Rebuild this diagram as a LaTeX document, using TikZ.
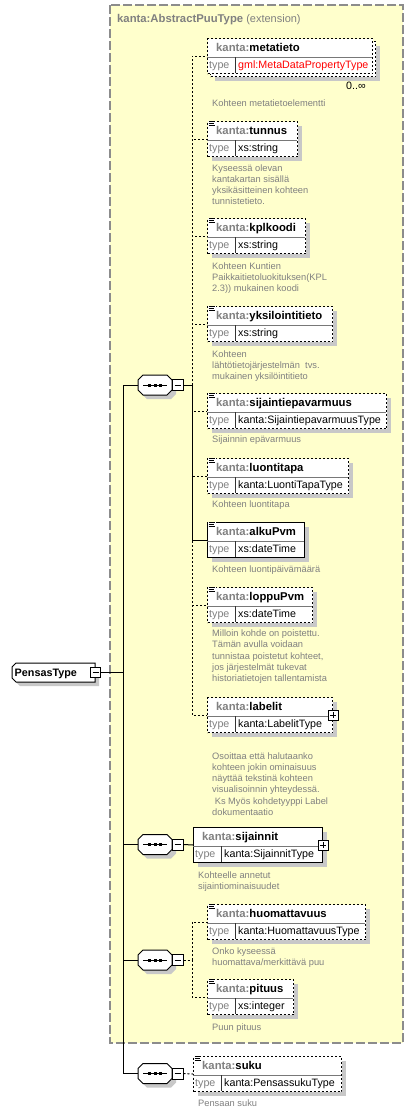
\documentclass[tikz,border=0pt]{standalone}
\usepackage{fontspec}
\setmainfont{Liberation Sans}
\usetikzlibrary{calc}
\definecolor{bgyellow}{RGB}{255,255,204}
\definecolor{framegray}{RGB}{140,140,140}
\definecolor{txtgray}{RGB}{128,128,128}
\definecolor{shadowgray}{RGB}{200,200,200}
\definecolor{typered}{RGB}{255,0,0}
\definecolor{divgray}{RGB}{120,120,120}
\tikzset{
  conn/.style={line width=1pt, draw=black},
  dashconn/.style={conn, dash pattern=on 2pt off 2pt},
  frame/.style={fill=bgyellow, draw=framegray, line width=1.2pt, dash pattern=on 9pt off 3pt},
  shadowed/.style={preaction={fill=shadowgray, transform canvas={xshift=4pt,yshift=-4pt}}},
  ebox/.style={draw=black, fill=white, line width=1pt, inner sep=0pt, minimum height=35pt, anchor=north west},
  optbox/.style={dash pattern=on 2pt off 2pt},
  reqbox/.style={solid},
  divh/.style={draw=divgray, line width=1pt},
  divv/.style={draw=black!80, line width=1pt},
  namefont/.style={font=\fontsize{11.3}{13}\selectfont\bfseries, inner sep=0pt, anchor=base west},
  typefont/.style={font=\fontsize{10.7}{12}\selectfont, inner sep=0pt, anchor=base west},
  desc/.style={font=\fontsize{9.3}{11.25}\selectfont, text=txtgray, align=left, inner sep=0pt, anchor=base west},
  sqbox/.style={draw=black, fill=white, line width=1pt, minimum size=10pt, inner sep=0pt},
  ghost/.style={inner sep=0pt, minimum width=34pt, minimum height=20pt}
}
% element box: id, x, y, width, style, name, type, type colour
\newcommand{\elem}[8]{%
  \node[ebox,#5,minimum width=#4] (#1) at (#2,#3) {};
  \draw[divh] (#2,#3+19) -- (#2+#4,#3+19);
  \draw[divv] (#2+28,#3+19) -- (#2+28,#3+35);
  \node[namefont] (#1-name) at (#2+9,#3+13.5) {\textcolor{txtgray}{kanta:}#6};
  \node[typefont, text=txtgray] (#1-tl) at (#2+2,#3+30.5) {type};
  \node[typefont, text=#8] (#1-type) at (#2+31,#3+30.5) {#7};
}
\newcommand{\docicon}[2]{%
  \fill[white] (#1+1,#2-0.5) rectangle (#1+9,#2+5.5);
  \draw[line width=0.9pt] (#1+1.5,#2+0.2) -- (#1+7.5,#2+0.2);
  \draw[line width=0.9pt] (#1+1.5,#2+2.2) -- (#1+6.5,#2+2.2);
  \draw[line width=0.9pt] (#1+1.5,#2+4.2) -- (#1+7.5,#2+4.2);
}
\newcommand{\plusnode}[2]{%
  \node[sqbox] (#1-plus) at (#2.east) {};
  \draw[line width=0.9pt] ($(#1-plus.center)+(-3,0)$) -- ($(#1-plus.center)+(3,0)$);
  \draw[line width=0.9pt] ($(#1-plus.center)+(0,-3)$) -- ($(#1-plus.center)+(0,3)$);
}
% sequence compositor: id, cx, cy
\newcommand{\seqsym}[3]{%
  \fill[shadowgray] (#2-8,#3-6) -- (#2+16,#3-6) -- (#2+21,#3-1) -- (#2+21,#3+9) -- (#2+16,#3+14) -- (#2-8,#3+14) -- (#2-13,#3+9) -- (#2-13,#3-1) -- cycle;
  \draw[fill=white, line width=1pt] (#2-12,#3-10) -- (#2+12,#3-10) -- (#2+17,#3-5) -- (#2+17,#3+5) -- (#2+12,#3+10) -- (#2-12,#3+10) -- (#2-17,#3+5) -- (#2-17,#3-5) -- cycle;
  \node[ghost] (#1) at (#2,#3) {};
  \draw[line width=1pt] (#2-12,#3) -- (#2+12,#3);
  \fill (#2-7,#3-1.5) rectangle (#2-4,#3+1.5);
  \fill (#2-1.5,#3-1.5) rectangle (#2+1.5,#3+1.5);
  \fill (#2+4,#3-1.5) rectangle (#2+7,#3+1.5);
  \node[sqbox, minimum size=11pt] (#1m) at (#2+22.5,#3) {};
  \draw[line width=0.9pt] (#2+19.5,#3) -- (#2+25.5,#3);
}
\begin{document}
\begin{tikzpicture}[x=1pt,y=-1pt]
\useasboundingbox (0,0) rectangle (414,1114);
\fill[white] (0,0) rectangle (414,1114);
\draw[frame] (110,5) rectangle (403,1043);
\node[namefont, text=txtgray] (title) at (117,22.5) {kanta:AbstractPuuType\mdseries\fontsize{11}{13}\selectfont{} (extension)};

% root
\fill[shadowgray] (20,667) -- (99,667) -- (99,686) -- (20,686) -- (16,682) -- (16,671) -- cycle;
\draw[fill=white, line width=1pt] (16,663) -- (95,663) -- (95,682) -- (16,682) -- (12,678) -- (12,667) -- cycle;
\node[namefont, font=\fontsize{10.8}{13}\selectfont\bfseries] (pensas) at (14.5,676.5) {PensasType};
\node[sqbox] (pm) at (95.5,672.5) {};
\draw[line width=0.9pt] (92.5,672.5) -- (98.5,672.5);

% sequences
\seqsym{s1}{155}{385}
\seqsym{s2}{155}{844.5}
\seqsym{s3}{155}{960}
\seqsym{s4}{155}{1073.5}

% element boxes
\node[ebox, optbox, shadowed, minimum width=165] (metaback) at (210,41) {};
\elem{metatieto}{207}{38}{165}{optbox}{metatieto}{gml:MetaDataPropertyType}{typered}
\node[typefont] (metaocc) at (346,89) {0..∞};
\elem{tunnus}{207}{121}{90}{optbox,shadowed}{tunnus}{xs:string}{black}
\elem{kplkoodi}{207}{218}{98}{optbox,shadowed}{kplkoodi}{xs:string}{black}
\elem{yksilo}{207}{306}{125}{optbox,shadowed}{yksilointitieto}{xs:string}{black}
\elem{sijaint}{207}{393}{179}{optbox,shadowed}{sijaintiepavarmuus}{kanta:SijaintiepavarmuusType}{black}
\elem{luonti}{207}{458}{141}{optbox,shadowed}{luontitapa}{kanta:LuontiTapaType}{black}
\elem{alku}{207}{522}{97}{reqbox,shadowed}{alkuPvm}{xs:dateTime}{black}
\elem{loppu}{207}{587}{105}{optbox,shadowed}{loppuPvm}{xs:dateTime}{black}
\elem{labelit}{207}{697}{125}{optbox,shadowed}{labelit}{kanta:LabelitType}{black}
\elem{sijainnit}{193}{827}{129}{reqbox,shadowed}{sijainnit}{kanta:SijainnitType}{black}
\elem{huom}{207}{904}{158}{optbox,shadowed}{huomattavuus}{kanta:HuomattavuusType}{black}
\elem{pituus}{207}{979}{86}{optbox,shadowed}{pituus}{xs:integer}{black}
\elem{suku}{193}{1056}{148}{optbox,shadowed}{suku}{kanta:PensassukuType}{black}

\docicon{207}{121}
\docicon{207}{218}
\docicon{207}{306}
\docicon{207}{393}
\docicon{207}{458}
\docicon{207}{522}
\docicon{207}{587}
\docicon{207}{904}
\docicon{207}{979}
\docicon{193}{1056}

\plusnode{labelit}{labelit}
\plusnode{sijainnit}{sijainnit}

% connectors
\coordinate (mb) at (123,672.5);
\draw[conn] (pm.east) -- (mb);
\draw[conn] (mb) |- (s1.west);
\draw[conn] (mb) |- (s2.west);
\draw[conn] (mb) |- (s3.west);
\draw[conn] (mb) |- (s4.west);

\coordinate (b1) at (192,385);
\draw[conn] (s1m.east) -- (b1);
\draw[dashconn] (b1) |- (metatieto.west);
\draw[dashconn] (b1) |- (tunnus.west);
\draw[dashconn] (b1) |- (kplkoodi.west);
\draw[dashconn] (b1) |- (yksilo.west);
\draw[conn] (b1) |- (alku.west);
\draw[dashconn] (b1) |- (sijaint.west);
\draw[dashconn] (b1) |- (luonti.west);
\draw[dashconn] (b1) |- (loppu.west);
\draw[dashconn] (b1) |- (labelit.west);

\draw[conn] (s2m.east) -- (sijainnit.west);

\coordinate (b3) at (192,960);
\draw[dashconn] (s3m.east) -- (b3);
\draw[dashconn] (b3) |- (huom.west);
\draw[dashconn] (b3) |- (pituus.west);

\draw[dashconn] (s4m.east) -- (suku.west);

% descriptions (anchor = baseline of the last line)
\node[desc] (d-meta) at (212,106) {Kohteen metatietoelementti};
\node[desc] (d-tunnus) at (212,204.75) {Kyseessä olevan\\kantakartan sisällä\\yksikäsitteinen kohteen\\tunnistetieto.};
\node[desc] (d-kpl) at (212,291.5) {Kohteen Kuntien\\Paikkaitietoluokituksen(KPL\\2.3)) mukainen koodi};
\node[desc] (d-yksilo) at (212,379.5) {Kohteen\\lähtötietojärjestelmän\ \ tvs.\\mukainen yksilöintitieto};
\node[desc] (d-sijaint) at (212,442) {Sijainnin epävarmuus};
\node[desc] (d-luonti) at (212,507) {Kohteen luontitapa};
\node[desc] (d-alku) at (212,572) {Kohteen luontipäivämäärä};
\node[desc] (d-loppu) at (212,681.5) {Milloin kohde on poistettu.\\Tämän avulla voidaan\\tunnistaa poistetut kohteet,\\jos järjestelmät tukevat\\historiatietojen tallentamista};
\node[desc] (d-labelit) at (212,815.25) {Osoittaa että halutaanko\\kohteen jokin ominaisuus\\näyttää tekstinä kohteen\\visualisoinnin yhteydessä.\\\hspace*{2.6pt}Ks Myös kohdetyyppi Label\\dokumentaatio};
\node[desc] (d-sijainnit) at (198,889.75) {Kohteelle annetut\\sijaintiominaisuudet};
\node[desc] (d-huom) at (212,965.25) {Onko kyseessä\\huomattava/merkittävä puu};
\node[desc] (d-pituus) at (212,1030) {Puun pituus};
\node[desc] (d-suku) at (198,1106) {Pensaan suku};
\end{tikzpicture}
\end{document}
